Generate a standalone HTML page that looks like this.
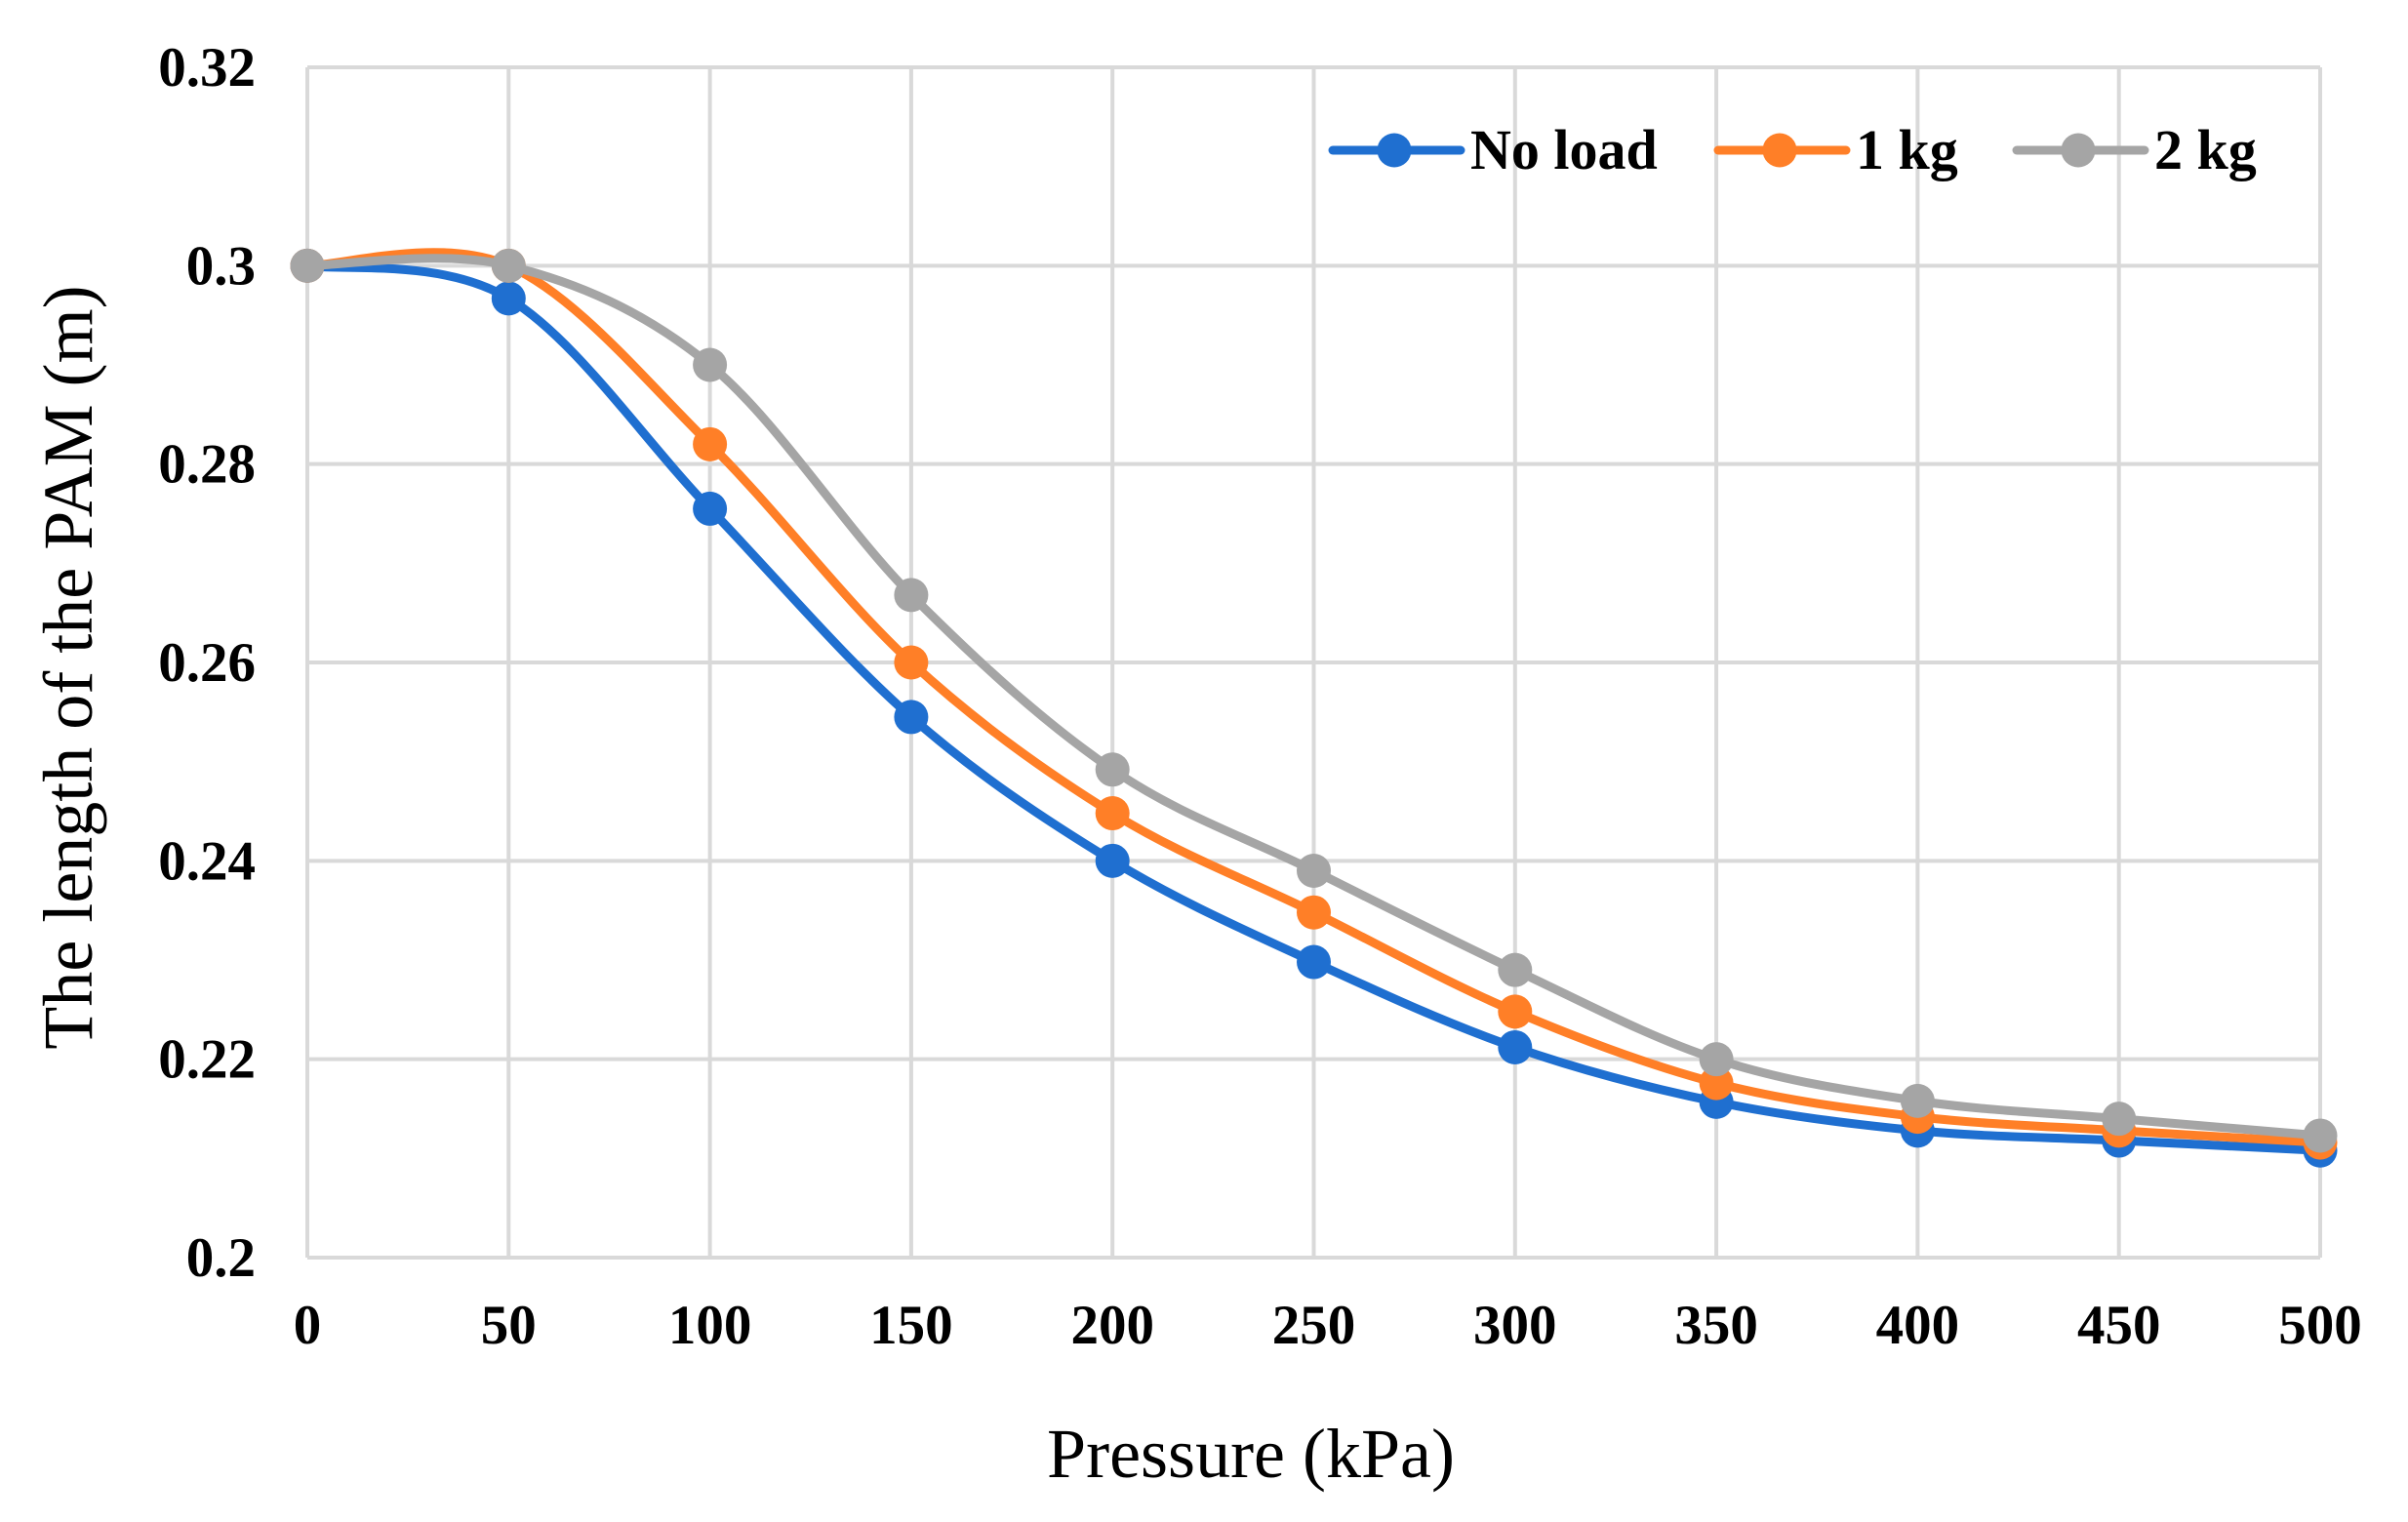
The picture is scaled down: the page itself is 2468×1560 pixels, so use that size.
<!DOCTYPE html>
<html><head><meta charset="utf-8"><style>
html,body{margin:0;padding:0;background:#fff;}
svg{display:block;}
text{font-family:"Liberation Serif",serif;fill:#000;}
</style></head><body>
<svg id="chart" width="2468" height="1560" viewBox="0 0 2468 1560" xmlns="http://www.w3.org/2000/svg">
<g id="grid"></g>
<g id="xticks"></g>
<g id="yticks"></g>
<g id="series"></g>
<text x="1282" y="1514" font-size="72" text-anchor="middle">Pressure (kPa)</text>
<text transform="translate(94,684) rotate(-90)" font-size="72" text-anchor="middle">The length of the PAM (m)</text>
<g id="legend"></g>
</svg>
<script>
const categories = [0,50,100,150,200,250,300,350,400,450,500];
const noLoad = [0.3,0.2967,0.2755,0.2545,0.2400,0.2298,0.2212,0.2157,0.2128,0.2118,0.2108];
const oneKg  = [0.3,0.3,0.2820,0.2600,0.2448,0.2348,0.2248,0.2176,0.2142,0.2128,0.2116];
const twoKg  = [0.3,0.3,0.2900,0.2668,0.2492,0.2390,0.2290,0.2200,0.2158,0.2140,0.2123];
const yTicks = [0.2,0.22,0.24,0.26,0.28,0.3,0.32];
const yTickLabels = ["0.2","0.22","0.24","0.26","0.28","0.3","0.32"];
const seriesNames = ["No load","1 kg","2 kg"];
const seriesColors = ["#1f6fd0","#ff7f27","#a5a5a5"];

const L=315,R=2378,T=69,B=1289;
const xS=v=>L+(v-0)/(500-0)*(R-L);
const yS=v=>B-(v-0.2)/(0.32-0.2)*(B-T);
const NS="http://www.w3.org/2000/svg";
function mk(tag,attrs,parent){const e=document.createElementNS(NS,tag);for(const k in attrs)e.setAttribute(k,attrs[k]);parent.appendChild(e);return e;}

const grid=document.getElementById('grid');
yTicks.forEach((t,i)=>{
  const l=mk('line',{x1:L,x2:R,y1:yS(t),y2:yS(t),stroke:'#d9d9d9','stroke-width':4},grid);
  
  
  const tx=mk('text',{x:262,y:yS(t)+19,'font-size':57,'font-weight':'bold','text-anchor':'end'},document.getElementById('yticks'));
  tx.textContent=yTickLabels[i];
  
  
});
categories.forEach(c=>{
  const l=mk('line',{x1:xS(c),x2:xS(c),y1:T,y2:B,stroke:'#d9d9d9','stroke-width':4},grid);
  
  
  const tx=mk('text',{x:xS(c),y:1377,'font-size':57,'font-weight':'bold','text-anchor':'middle'},document.getElementById('xticks'));
  tx.textContent=String(c);
  
  
});

function smoothPath(pts){
  let d=`M${pts[0][0]},${pts[0][1]}`;
  for(let i=0;i<pts.length-1;i++){
    const p0=pts[Math.max(i-1,0)],p1=pts[i],p2=pts[i+1],p3=pts[Math.min(i+2,pts.length-1)];
    const c1x=p1[0]+(p2[0]-p0[0])/6,c1y=p1[1]+(p2[1]-p0[1])/6;
    const c2x=p2[0]-(p3[0]-p1[0])/6,c2y=p2[1]-(p3[1]-p1[1])/6;
    d+=` C${c1x},${c1y} ${c2x},${c2y} ${p2[0]},${p2[1]}`;
  }
  return d;
}
const sg=document.getElementById('series');
[noLoad,oneKg,twoKg].forEach((vals,si)=>{
  const g=mk('g',{},sg);
  
  
  const pts=vals.map((v,i)=>[xS(categories[i]),yS(v)]);
  const p=mk('path',{d:smoothPath(pts),fill:'none',stroke:seriesColors[si],'stroke-width':9,'stroke-linecap':'round'},g);
  
  
  pts.forEach(pt=>{
    const c=mk('circle',{cx:pt[0],cy:pt[1],r:17.5,fill:seriesColors[si]},g);
    
    
  });
});

const lg=document.getElementById('legend');
const legX=[1366,1761,2067];
seriesNames.forEach((n,i)=>{
  const g=mk('g',{},lg);
  
  
  mk('line',{x1:legX[i],x2:legX[i]+131,y1:154,y2:154,stroke:seriesColors[i],'stroke-width':9,'stroke-linecap':'round'},g);
  mk('circle',{cx:legX[i]+63,cy:154,r:17.5,fill:seriesColors[i]},g);
  const t=mk('text',{x:legX[i]+141,y:173,'font-size':58,'font-weight':'bold'},g);
  t.textContent=n;
  
  
});
</script>
</body></html>
